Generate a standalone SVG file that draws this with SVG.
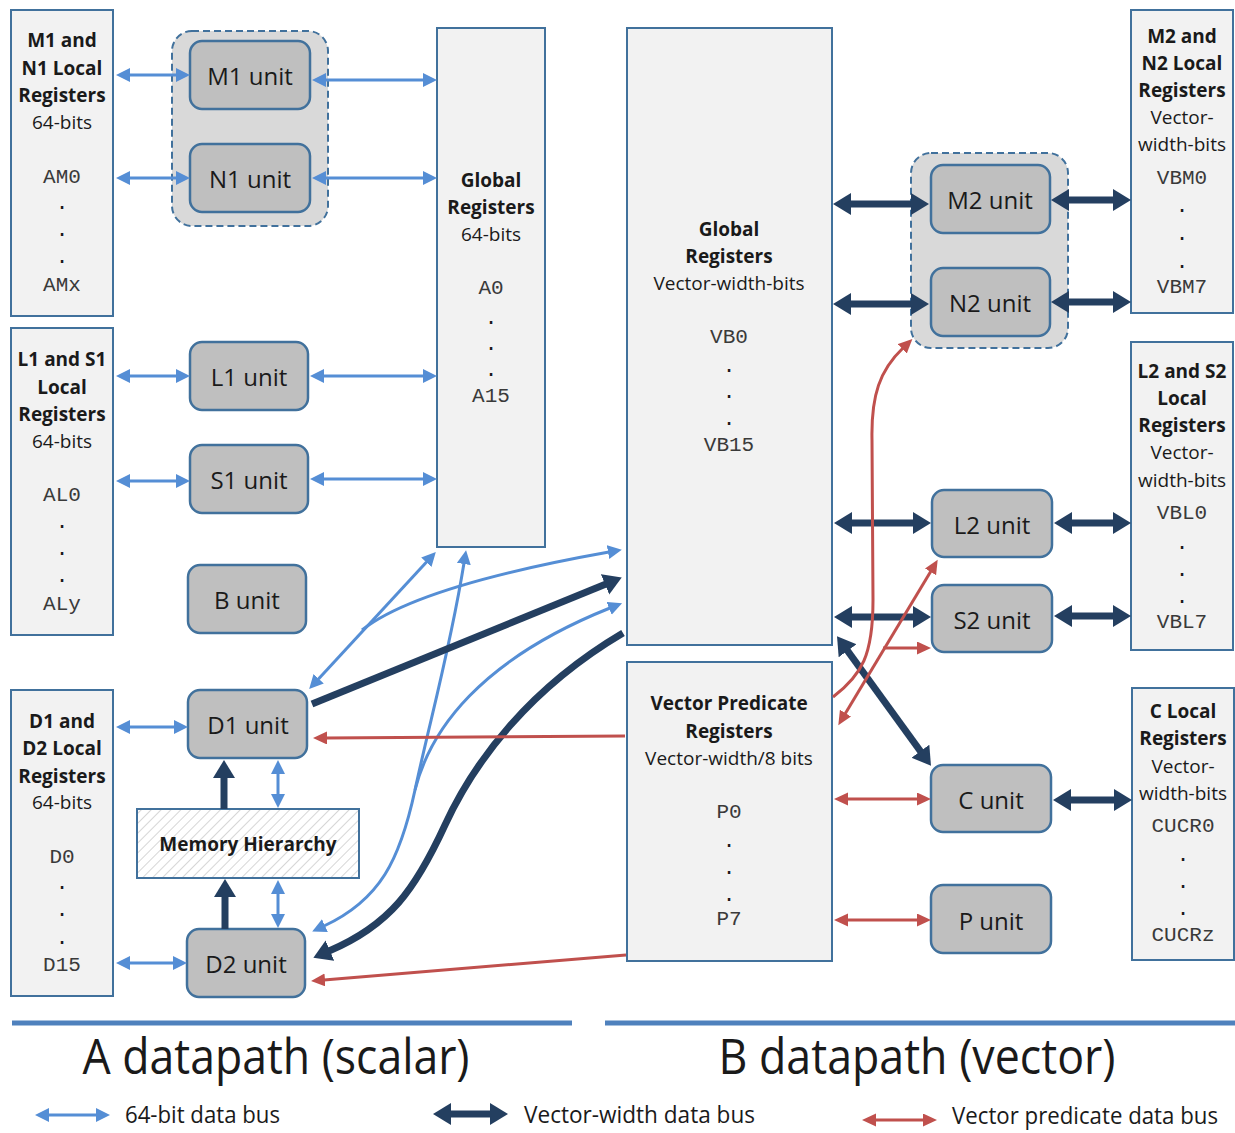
<svg xmlns="http://www.w3.org/2000/svg" width="1235" height="1133" viewBox="0 0 1235 1133">
  <defs>
    <style>
      .reg { fill: #f2f2f2; stroke: #41719c; stroke-width: 2; }
      .unit { fill: #bfbfbf; stroke: #41719c; stroke-width: 2.5; }
      .grp { fill: #d9d9d9; stroke: #41719c; stroke-width: 2; stroke-dasharray: 7 4; }
      .mem { fill: url(#hatch); stroke: #41719c; stroke-width: 2; }
      text { fill: #1a1a1a; text-anchor: middle; }
      .h { font: 700 19px "Open Sans", "Noto Sans", sans-serif; dominant-baseline: central; }
      .t { font: 400 19px "Open Sans", "Noto Sans", sans-serif; dominant-baseline: central; }
      .m { font: 400 21px "Liberation Mono", monospace; fill: #3a3a3a; dominant-baseline: central; }
      .d { font: 400 21px "Liberation Mono", monospace; fill: #1a1a1a; }
      .u { font: 400 24px "Open Sans", "Noto Sans", sans-serif; dominant-baseline: central; }
      .title { font: 400 49px "Open Sans", "Noto Sans", sans-serif; }
      .leg { font: 400 23px "Open Sans", "Noto Sans", sans-serif; text-anchor: start; }
      .lb { fill: none; stroke: #558ed5; stroke-width: 3; marker-start: url(#hl); marker-end: url(#hl); }
      .lb1 { fill: none; stroke: #558ed5; stroke-width: 3; marker-end: url(#hl); }
      .dk { fill: none; stroke: #243f60; stroke-width: 7; marker-start: url(#hd); marker-end: url(#hd); }
      .dk1 { fill: none; stroke: #243f60; stroke-width: 7; marker-end: url(#hd); }
      .rd { fill: none; stroke: #c0504d; stroke-width: 3; marker-start: url(#hr); marker-end: url(#hr); }
      .rd1 { fill: none; stroke: #c0504d; stroke-width: 3; marker-end: url(#hr); }
      .bar { stroke: #4f81bd; stroke-width: 5; }
    </style>
    <marker id="hl" markerUnits="userSpaceOnUse" markerWidth="16" markerHeight="16" refX="1" refY="7" orient="auto-start-reverse">
      <path d="M0,0 L14,7 L0,14 z" fill="#558ed5"/>
    </marker>
    <marker id="hd" markerUnits="userSpaceOnUse" markerWidth="20" markerHeight="24" refX="1" refY="11" orient="auto-start-reverse">
      <path d="M0,0 L18,11 L0,22 z" fill="#243f60"/>
    </marker>
    <marker id="hr" markerUnits="userSpaceOnUse" markerWidth="16" markerHeight="14" refX="1" refY="6.5" orient="auto-start-reverse">
      <path d="M0,0 L14,6.5 L0,13 z" fill="#c0504d"/>
    </marker>
    <pattern id="hatch" patternUnits="userSpaceOnUse" width="7" height="7" patternTransform="rotate(45)">
      <rect width="7" height="7" fill="#ffffff"/>
      <line x1="0" y1="0" x2="0" y2="7" stroke="#d6d6d6" stroke-width="2"/>
    </pattern>
  </defs>

  <rect width="1235" height="1133" fill="#ffffff"/>

  <!-- A side: local register files -->
  <g id="m1n1-local">
    <rect class="reg" x="11" y="10" width="102" height="306"/>
    <text class="h" x="62" y="40">M1 and</text>
    <text class="h" x="62" y="68">N1 Local</text>
    <text class="h" x="62" y="95">Registers</text>
    <text class="t" x="62" y="122">64-bits</text>
    <text class="m" x="62" y="177">AM0</text>
    <text class="d" x="62" y="209">.</text>
    <text class="d" x="62" y="236">.</text>
    <text class="d" x="62" y="263">.</text>
    <text class="m" x="62" y="285">AMx</text>
  </g>
  <g id="l1s1-local">
    <rect class="reg" x="11" y="328" width="102" height="307"/>
    <text class="h" x="62" y="359">L1 and S1</text>
    <text class="h" x="62" y="387">Local</text>
    <text class="h" x="62" y="414">Registers</text>
    <text class="t" x="62" y="441">64-bits</text>
    <text class="m" x="62" y="495">AL0</text>
    <text class="d" x="62" y="528">.</text>
    <text class="d" x="62" y="555">.</text>
    <text class="d" x="62" y="582">.</text>
    <text class="m" x="62" y="604">ALy</text>
  </g>
  <g id="d1d2-local">
    <rect class="reg" x="11" y="690" width="102" height="306"/>
    <text class="h" x="62" y="721">D1 and</text>
    <text class="h" x="62" y="748">D2 Local</text>
    <text class="h" x="62" y="776">Registers</text>
    <text class="t" x="62" y="802">64-bits</text>
    <text class="m" x="62" y="857">D0</text>
    <text class="d" x="62" y="889">.</text>
    <text class="d" x="62" y="916">.</text>
    <text class="d" x="62" y="944">.</text>
    <text class="m" x="62" y="965">D15</text>
  </g>

  <!-- A side: functional units -->
  <g id="m1n1-group">
    <rect class="grp" x="172" y="31" width="156" height="195" rx="20"/>
  </g>
  <g id="m1-unit">
    <rect class="unit" x="190" y="41" width="120" height="68" rx="12"/>
    <text class="u" x="250" y="75">M1 unit</text>
  </g>
  <g id="n1-unit">
    <rect class="unit" x="190" y="144" width="120" height="68" rx="12"/>
    <text class="u" x="250" y="178">N1 unit</text>
  </g>
  <g id="l1-unit">
    <rect class="unit" x="190" y="342" width="118" height="68" rx="12"/>
    <text class="u" x="249" y="376">L1 unit</text>
  </g>
  <g id="s1-unit">
    <rect class="unit" x="190" y="445" width="118" height="68" rx="12"/>
    <text class="u" x="249" y="479">S1 unit</text>
  </g>
  <g id="b-unit">
    <rect class="unit" x="188" y="565" width="118" height="68" rx="12"/>
    <text class="u" x="247" y="599">B unit</text>
  </g>
  <g id="d1-unit">
    <rect class="unit" x="188" y="690" width="119" height="68" rx="12"/>
    <text class="u" x="248" y="724">D1 unit</text>
  </g>
  <g id="memory-hierarchy">
    <rect class="mem" x="137" y="809" width="222" height="69"/>
    <text class="h" x="248" y="844">Memory Hierarchy</text>
  </g>
  <g id="d2-unit">
    <rect class="unit" x="187" y="929" width="118" height="68" rx="12"/>
    <text class="u" x="246" y="963">D2 unit</text>
  </g>

  <!-- Global register files -->
  <g id="global-a">
    <rect class="reg" x="437" y="28" width="108" height="519"/>
    <text class="h" x="491" y="180">Global</text>
    <text class="h" x="491" y="207">Registers</text>
    <text class="t" x="491" y="234">64-bits</text>
    <text class="m" x="491" y="288">A0</text>
    <text class="d" x="491" y="324">.</text>
    <text class="d" x="491" y="350">.</text>
    <text class="d" x="491" y="376">.</text>
    <text class="m" x="491" y="396">A15</text>
  </g>
  <g id="global-b">
    <rect class="reg" x="627" y="28" width="205" height="617"/>
    <text class="h" x="729" y="229">Global</text>
    <text class="h" x="729" y="256">Registers</text>
    <text class="t" x="729" y="283">Vector-width-bits</text>
    <text class="m" x="729" y="337">VB0</text>
    <text class="d" x="729" y="372">.</text>
    <text class="d" x="729" y="398">.</text>
    <text class="d" x="729" y="425">.</text>
    <text class="m" x="729" y="445">VB15</text>
  </g>
  <g id="vector-predicate">
    <rect class="reg" x="627" y="662" width="205" height="299"/>
    <text class="h" x="729" y="703">Vector Predicate</text>
    <text class="h" x="729" y="731">Registers</text>
    <text class="t" x="729" y="758">Vector-width/8 bits</text>
    <text class="m" x="729" y="812">P0</text>
    <text class="d" x="729" y="847">.</text>
    <text class="d" x="729" y="874">.</text>
    <text class="d" x="729" y="901">.</text>
    <text class="m" x="729" y="919">P7</text>
  </g>

  <!-- B side: functional units -->
  <g id="m2n2-group">
    <rect class="grp" x="911" y="153" width="157" height="195" rx="20"/>
  </g>
  <g id="m2-unit">
    <rect class="unit" x="931" y="165" width="119" height="68" rx="12"/>
    <text class="u" x="990" y="199">M2 unit</text>
  </g>
  <g id="n2-unit">
    <rect class="unit" x="931" y="268" width="119" height="68" rx="12"/>
    <text class="u" x="990" y="302">N2 unit</text>
  </g>
  <g id="l2-unit">
    <rect class="unit" x="932" y="490" width="120" height="67" rx="12"/>
    <text class="u" x="992" y="524">L2 unit</text>
  </g>
  <g id="s2-unit">
    <rect class="unit" x="932" y="585" width="120" height="67" rx="12"/>
    <text class="u" x="992" y="619">S2 unit</text>
  </g>
  <g id="c-unit">
    <rect class="unit" x="931" y="765" width="120" height="67" rx="12"/>
    <text class="u" x="991" y="799">C unit</text>
  </g>
  <g id="p-unit">
    <rect class="unit" x="931" y="885" width="120" height="68" rx="12"/>
    <text class="u" x="991" y="920">P unit</text>
  </g>

  <!-- B side: local register files -->
  <g id="m2n2-local">
    <rect class="reg" x="1131" y="10" width="102" height="303"/>
    <text class="h" x="1182" y="36">M2 and</text>
    <text class="h" x="1182" y="63">N2 Local</text>
    <text class="h" x="1182" y="90">Registers</text>
    <text class="t" x="1182" y="117">Vector-</text>
    <text class="t" x="1182" y="144">width-bits</text>
    <text class="m" x="1182" y="178">VBM0</text>
    <text class="d" x="1182" y="212">.</text>
    <text class="d" x="1182" y="240">.</text>
    <text class="d" x="1182" y="268">.</text>
    <text class="m" x="1182" y="287">VBM7</text>
  </g>
  <g id="l2s2-local">
    <rect class="reg" x="1131" y="342" width="102" height="308"/>
    <text class="h" x="1182" y="371">L2 and S2</text>
    <text class="h" x="1182" y="398">Local</text>
    <text class="h" x="1182" y="425">Registers</text>
    <text class="t" x="1182" y="452">Vector-</text>
    <text class="t" x="1182" y="480">width-bits</text>
    <text class="m" x="1182" y="513">VBL0</text>
    <text class="d" x="1182" y="549">.</text>
    <text class="d" x="1182" y="576">.</text>
    <text class="d" x="1182" y="603">.</text>
    <text class="m" x="1182" y="622">VBL7</text>
  </g>
  <g id="c-local">
    <rect class="reg" x="1132" y="688" width="102" height="272"/>
    <text class="h" x="1183" y="711">C Local</text>
    <text class="h" x="1183" y="738">Registers</text>
    <text class="t" x="1183" y="766">Vector-</text>
    <text class="t" x="1183" y="793">width-bits</text>
    <text class="m" x="1183" y="826">CUCR0</text>
    <text class="d" x="1183" y="861">.</text>
    <text class="d" x="1183" y="888">.</text>
    <text class="d" x="1183" y="915">.</text>
    <text class="m" x="1183" y="935">CUCRz</text>
  </g>

  <!-- Buses -->
  <g id="connectors">
    <!-- 64-bit data buses -->
    <path class="lb" d="M129,75 H177"/>
    <path class="lb" d="M325,80 H424"/>
    <path class="lb" d="M129,178 H177"/>
    <path class="lb" d="M325,178 H424"/>
    <path class="lb" d="M129,376 H177"/>
    <path class="lb" d="M323,376 H424"/>
    <path class="lb" d="M129,481 H177"/>
    <path class="lb" d="M323,479 H424"/>
    <path class="lb" d="M129,727 H175"/>
    <path class="lb" d="M129,963 H174"/>
    <path class="lb" d="M278,773 V795"/>
    <path class="lb" d="M278,893 V915"/>
    <path class="lb" d="M318,679.5 L427,561.5"/>
    <path class="lb1" d="M362,630 C400,600 480,575 609,552"/>
    <path class="lb" d="M464,563 C450,650 430,720 415,790 C400,860 380,900 324,926"/>
    <path class="lb1" d="M415,790 C430,730 480,660 610,608"/>

    <!-- Vector-width data buses -->
    <path class="dk1" d="M224,809 V777"/>
    <path class="dk1" d="M225,929 V896"/>
    <path class="dk1" d="M312,704 L606,584"/>
    <path class="dk1" d="M623,633 C530,688 475,760 445,825 C415,890 390,925 329,951"/>
    <path class="dk" d="M850,204 H912"/>
    <path class="dk" d="M1068,200 H1114"/>
    <path class="dk" d="M850,304 H912"/>
    <path class="dk" d="M1068,302 H1114"/>
    <path class="dk" d="M851,523 H914"/>
    <path class="dk" d="M1071,523 H1114"/>
    <path class="dk" d="M851,617 H914"/>
    <path class="dk" d="M1071,616 H1114"/>
    <path class="dk" d="M847,650 L921,752"/>
    <path class="dk" d="M1070,800 H1115"/>

    <!-- Vector predicate data buses -->
    <path class="rd1" d="M625,736 L326,738"/>
    <path class="rd1" d="M626,955 L324,980"/>
    <path class="rd" d="M847,799 H918"/>
    <path class="rd" d="M847,920 H918"/>
    <path class="rd1" d="M833,697 C862,675 873,655 873,600 L872,440 C871,395 880,370 903,348"/>
    <path class="rd" d="M845,714 L931,571"/>
    <path class="rd1" d="M883,648 H918"/>
  </g>

  <!-- Datapath labels -->
  <line class="bar" x1="12" y1="1023" x2="572" y2="1023"/>
  <line class="bar" x1="605" y1="1023" x2="1235" y2="1023"/>
  <text class="title" x="276" y="1074" textLength="387" lengthAdjust="spacingAndGlyphs">A datapath (scalar)</text>
  <text class="title" x="917" y="1074" textLength="397" lengthAdjust="spacingAndGlyphs">B datapath (vector)</text>

  <!-- Legend -->
  <g id="legend">
    <path class="lb" d="M48,1115 H97"/>
    <text class="leg" x="125" y="1123" textLength="155" lengthAdjust="spacingAndGlyphs">64-bit data bus</text>
    <path class="dk" d="M450,1114 H491"/>
    <text class="leg" x="524" y="1123" textLength="231" lengthAdjust="spacingAndGlyphs">Vector-width data bus</text>
    <path class="rd" d="M875,1120 H924"/>
    <text class="leg" x="952" y="1124" textLength="266" lengthAdjust="spacingAndGlyphs">Vector predicate data bus</text>
  </g>
</svg>
